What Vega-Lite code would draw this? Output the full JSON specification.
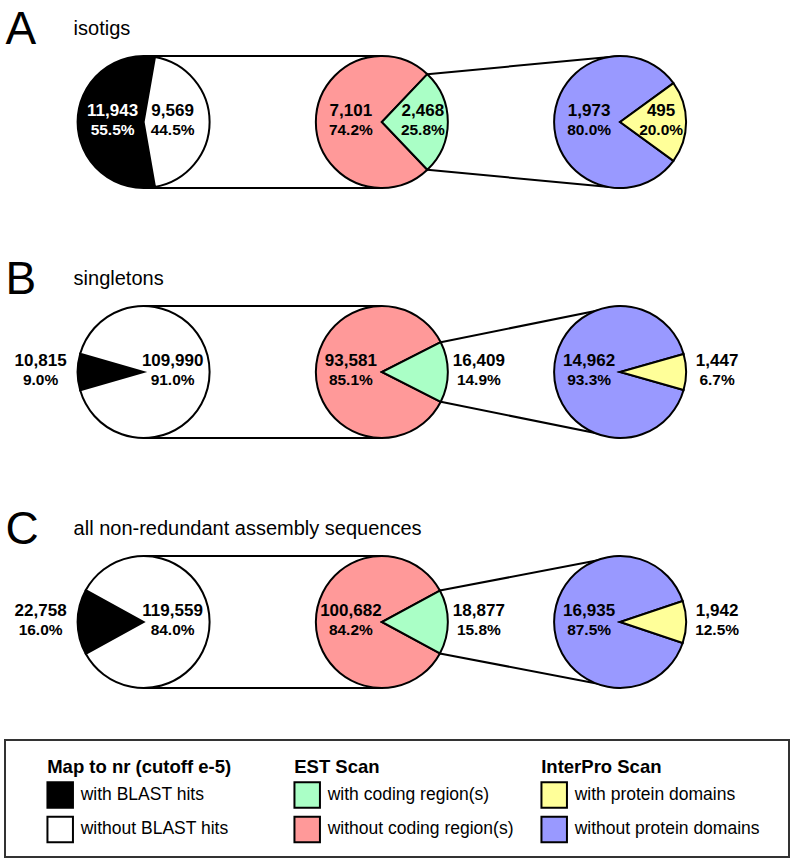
{
  "$schema": "https://vega.github.io/schema/vega-lite/v6.json",
  "background": "white",
  "padding": {"left": 4, "top": 0, "right": 5, "bottom": 6},
  "config": {"view": {"stroke": null}, "font": "Liberation Sans", "scale": {"pointPadding": 0}},
  "spacing": 0,
  "bounds": "flush",
  "datasets": {
    "pies": [
      {"set": "isotigs", "stage": "nr", "category": "with BLAST hits", "count": 11943, "pct": 0.555},
      {"set": "isotigs", "stage": "nr", "category": "without BLAST hits", "count": 9569, "pct": 0.445},
      {"set": "isotigs", "stage": "EST", "category": "without coding region(s)", "count": 7101, "pct": 0.742},
      {"set": "isotigs", "stage": "EST", "category": "with coding region(s)", "count": 2468, "pct": 0.258},
      {"set": "isotigs", "stage": "InterPro", "category": "without protein domains", "count": 1973, "pct": 0.800},
      {"set": "isotigs", "stage": "InterPro", "category": "with protein domains", "count": 495, "pct": 0.200},
      {"set": "singletons", "stage": "nr", "category": "with BLAST hits", "count": 10815, "pct": 0.090},
      {"set": "singletons", "stage": "nr", "category": "without BLAST hits", "count": 109990, "pct": 0.910},
      {"set": "singletons", "stage": "EST", "category": "without coding region(s)", "count": 93581, "pct": 0.851},
      {"set": "singletons", "stage": "EST", "category": "with coding region(s)", "count": 16409, "pct": 0.149},
      {"set": "singletons", "stage": "InterPro", "category": "without protein domains", "count": 14962, "pct": 0.933},
      {"set": "singletons", "stage": "InterPro", "category": "with protein domains", "count": 1447, "pct": 0.067},
      {"set": "all", "stage": "nr", "category": "with BLAST hits", "count": 22758, "pct": 0.160},
      {"set": "all", "stage": "nr", "category": "without BLAST hits", "count": 119559, "pct": 0.840},
      {"set": "all", "stage": "EST", "category": "without coding region(s)", "count": 100682, "pct": 0.842},
      {"set": "all", "stage": "EST", "category": "with coding region(s)", "count": 18877, "pct": 0.158},
      {"set": "all", "stage": "InterPro", "category": "without protein domains", "count": 16935, "pct": 0.875},
      {"set": "all", "stage": "InterPro", "category": "with protein domains", "count": 1942, "pct": 0.125}
    ],
    "panels": [
      {"set": "isotigs", "letter": "A", "name": "isotigs"},
      {"set": "singletons", "letter": "B", "name": "singletons"},
      {"set": "all", "letter": "C", "name": "all non-redundant assembly sequences"}
    ],
    "legend": [
      {"group": "Map to nr (cutoff e-5)", "stage": "nr", "kind": "with", "category": "with BLAST hits"},
      {"group": "Map to nr (cutoff e-5)", "stage": "nr", "kind": "without", "category": "without BLAST hits"},
      {"group": "EST Scan", "stage": "EST", "kind": "with", "category": "with coding region(s)"},
      {"group": "EST Scan", "stage": "EST", "kind": "without", "category": "without coding region(s)"},
      {"group": "InterPro Scan", "stage": "InterPro", "kind": "with", "category": "with protein domains"},
      {"group": "InterPro Scan", "stage": "InterPro", "kind": "without", "category": "without protein domains"}
    ]
  },
  "vconcat": [
    {
      "width": 784,
      "height": 740,
      "data": {"name": "pies"},
      "encoding": {
        "x": {"field": "stage", "type": "nominal", "axis": null, "scale": {"type": "point", "domain": ["nr", "EST", "InterPro"], "range": [138.6, 615.1], "padding": 0}},
        "y": {"field": "set", "type": "nominal", "axis": null, "scale": {"type": "point", "domain": ["isotigs", "singletons", "all"], "range": [122, 622], "padding": 0}}
      },
      "layer": [
        {
          "transform": [{"filter": "datum.stage === 'nr' && datum.category === 'with BLAST hits'"}],
          "encoding": {"x": {"datum": "nr", "type": "nominal"}, "x2": {"datum": "EST"}},
          "layer": [
            {"mark": {"type": "rule", "yOffset": -66, "strokeWidth": 2, "color": "#000000"}, "encoding": {}},
            {"mark": {"type": "rule", "yOffset": 66, "strokeWidth": 2, "color": "#000000"}, "encoding": {}}
          ]
        },
        {
          "transform": [{"filter": "datum.set === 'isotigs' && datum.category === 'with coding region(s)'"}],
          "encoding": {"x": {"datum": "EST", "type": "nominal"}, "x2": {"datum": "InterPro"}, "y2": {"field": "set"}},
          "layer": [
            {"mark": {"type": "rule", "xOffset": 45.5, "yOffset": -47.8, "y2Offset": -66, "strokeWidth": 2, "color": "#000000"}, "encoding": {}},
            {"mark": {"type": "rule", "xOffset": 45.5, "yOffset": 47.8, "y2Offset": 66, "strokeWidth": 2, "color": "#000000"}, "encoding": {}}
          ]
        },
        {
          "transform": [{"filter": "datum.set === 'singletons' && datum.category === 'with coding region(s)'"}],
          "encoding": {"x": {"datum": "EST", "type": "nominal"}, "x2": {"datum": "InterPro"}, "y2": {"field": "set"}},
          "layer": [
            {"mark": {"type": "rule", "xOffset": 58.9, "yOffset": -29.8, "y2Offset": -66, "strokeWidth": 2, "color": "#000000"}, "encoding": {}},
            {"mark": {"type": "rule", "xOffset": 58.9, "yOffset": 29.8, "y2Offset": 66, "strokeWidth": 2, "color": "#000000"}, "encoding": {}}
          ]
        },
        {
          "transform": [{"filter": "datum.set === 'all' && datum.category === 'with coding region(s)'"}],
          "encoding": {"x": {"datum": "EST", "type": "nominal"}, "x2": {"datum": "InterPro"}, "y2": {"field": "set"}},
          "layer": [
            {"mark": {"type": "rule", "xOffset": 58.0, "yOffset": -31.4, "y2Offset": -66, "strokeWidth": 2, "color": "#000000"}, "encoding": {}},
            {"mark": {"type": "rule", "xOffset": 58.0, "yOffset": 31.4, "y2Offset": 66, "strokeWidth": 2, "color": "#000000"}, "encoding": {}}
          ]
        },
        {
          "transform": [{"filter": "datum.set === 'isotigs' && datum.stage === 'nr'"}],
          "mark": {"type": "arc", "outerRadius": 66, "stroke": "#000000", "strokeWidth": 2},
          "encoding": {
            "theta": {"field": "count", "type": "quantitative", "scale": {"range": [0.17335, 6.45654]}},
            "order": {"field": "count", "type": "quantitative", "sort": "ascending"},
            "color": {"field": "category", "type": "nominal", "legend": null, "scale": {"domain": ["with BLAST hits", "without BLAST hits", "with coding region(s)", "without coding region(s)", "with protein domains", "without protein domains"], "range": ["#000000", "#ffffff", "#aaffc6", "#ff9999", "#ffff99", "#9999ff"]}}
          }
        },
        {
          "transform": [{"filter": "datum.set === 'isotigs' && datum.stage === 'EST'"}],
          "mark": {"type": "arc", "outerRadius": 66, "stroke": "#000000", "strokeWidth": 2},
          "encoding": {
            "theta": {"field": "count", "type": "quantitative", "scale": {"range": [0.76051, 7.0437]}},
            "order": {"field": "count", "type": "quantitative", "sort": "ascending"},
            "color": {"field": "category", "type": "nominal", "legend": null}
          }
        },
        {
          "transform": [{"filter": "datum.set === 'isotigs' && datum.stage === 'InterPro'"}],
          "mark": {"type": "arc", "outerRadius": 66, "stroke": "#000000", "strokeWidth": 2},
          "encoding": {
            "theta": {"field": "count", "type": "quantitative", "scale": {"range": [0.94068, 7.22387]}},
            "order": {"field": "count", "type": "quantitative", "sort": "ascending"},
            "color": {"field": "category", "type": "nominal", "legend": null}
          }
        },
        {
          "transform": [{"filter": "datum.set === 'singletons' && datum.stage === 'nr'"}],
          "mark": {"type": "arc", "outerRadius": 66, "stroke": "#000000", "strokeWidth": 2},
          "encoding": {
            "theta": {"field": "count", "type": "quantitative", "scale": {"range": [4.43118, 10.71437]}},
            "order": {"field": "count", "type": "quantitative", "sort": "ascending"},
            "color": {"field": "category", "type": "nominal", "legend": null}
          }
        },
        {
          "transform": [{"filter": "datum.set === 'singletons' && datum.stage === 'EST'"}],
          "mark": {"type": "arc", "outerRadius": 66, "stroke": "#000000", "strokeWidth": 2},
          "encoding": {
            "theta": {"field": "count", "type": "quantitative", "scale": {"range": [1.10212, 7.38531]}},
            "order": {"field": "count", "type": "quantitative", "sort": "ascending"},
            "color": {"field": "category", "type": "nominal", "legend": null}
          }
        },
        {
          "transform": [{"filter": "datum.set === 'singletons' && datum.stage === 'InterPro'"}],
          "mark": {"type": "arc", "outerRadius": 66, "stroke": "#000000", "strokeWidth": 2},
          "encoding": {
            "theta": {"field": "count", "type": "quantitative", "scale": {"range": [1.29376, 7.57695]}},
            "order": {"field": "count", "type": "quantitative", "sort": "ascending"},
            "color": {"field": "category", "type": "nominal", "legend": null}
          }
        },
        {
          "transform": [{"filter": "datum.set === 'all' && datum.stage === 'nr'"}],
          "mark": {"type": "arc", "outerRadius": 66, "stroke": "#000000", "strokeWidth": 2},
          "encoding": {
            "theta": {"field": "count", "type": "quantitative", "scale": {"range": [4.20998, 10.49317]}},
            "order": {"field": "count", "type": "quantitative", "sort": "ascending"},
            "color": {"field": "category", "type": "nominal", "legend": null}
          }
        },
        {
          "transform": [{"filter": "datum.set === 'all' && datum.stage === 'EST'"}],
          "mark": {"type": "arc", "outerRadius": 66, "stroke": "#000000", "strokeWidth": 2},
          "encoding": {
            "theta": {"field": "count", "type": "quantitative", "scale": {"range": [1.07477, 7.35796]}},
            "order": {"field": "count", "type": "quantitative", "sort": "ascending"},
            "color": {"field": "category", "type": "nominal", "legend": null}
          }
        },
        {
          "transform": [{"filter": "datum.set === 'all' && datum.stage === 'InterPro'"}],
          "mark": {"type": "arc", "outerRadius": 66, "stroke": "#000000", "strokeWidth": 2},
          "encoding": {
            "theta": {"field": "count", "type": "quantitative", "scale": {"range": [1.2476, 7.53079]}},
            "order": {"field": "count", "type": "quantitative", "sort": "ascending"},
            "color": {"field": "category", "type": "nominal", "legend": null}
          }
        },
        {
          "transform": [{"filter": "(datum.category === 'with BLAST hits' || datum.category === 'without coding region(s)' || datum.category === 'without protein domains') && datum.pct >= 0.2"}],
          "encoding": {"color": {"condition": {"test": "datum.category === 'with BLAST hits'", "value": "#ffffff"}, "value": "#000000"}},
          "layer": [
            {"mark": {"type": "text", "dx": -31, "dy": -6.5, "fontSize": 17, "fontWeight": "bold", "baseline": "alphabetic"}, "encoding": {"text": {"field": "count", "type": "quantitative", "format": ","}}},
            {"mark": {"type": "text", "dx": -31, "dy": 12.5, "fontSize": 15.5, "fontWeight": "bold", "baseline": "alphabetic"}, "encoding": {"text": {"field": "pct", "type": "quantitative", "format": ".1%"}}}
          ]
        },
        {
          "transform": [{"filter": "(datum.category === 'with BLAST hits' || datum.category === 'without coding region(s)' || datum.category === 'without protein domains') && datum.pct < 0.2"}],
          "layer": [
            {"mark": {"type": "text", "dx": -103, "dy": -6.5, "fontSize": 17, "fontWeight": "bold", "baseline": "alphabetic", "color": "#000000"}, "encoding": {"text": {"field": "count", "type": "quantitative", "format": ","}}},
            {"mark": {"type": "text", "dx": -103, "dy": 12.5, "fontSize": 15.5, "fontWeight": "bold", "baseline": "alphabetic", "color": "#000000"}, "encoding": {"text": {"field": "pct", "type": "quantitative", "format": ".1%"}}}
          ]
        },
        {
          "transform": [{"filter": "(datum.category === 'without BLAST hits' || datum.category === 'with coding region(s)' || datum.category === 'with protein domains') && datum.pct >= 0.4"}],
          "layer": [
            {"mark": {"type": "text", "dx": 29, "dy": -6.5, "fontSize": 17, "fontWeight": "bold", "baseline": "alphabetic", "color": "#000000"}, "encoding": {"text": {"field": "count", "type": "quantitative", "format": ","}}},
            {"mark": {"type": "text", "dx": 29, "dy": 12.5, "fontSize": 15.5, "fontWeight": "bold", "baseline": "alphabetic", "color": "#000000"}, "encoding": {"text": {"field": "pct", "type": "quantitative", "format": ".1%"}}}
          ]
        },
        {
          "transform": [{"filter": "(datum.category === 'without BLAST hits' || datum.category === 'with coding region(s)' || datum.category === 'with protein domains') && datum.pct >= 0.2 && datum.pct < 0.4"}],
          "layer": [
            {"mark": {"type": "text", "dx": 41, "dy": -6.5, "fontSize": 17, "fontWeight": "bold", "baseline": "alphabetic", "color": "#000000"}, "encoding": {"text": {"field": "count", "type": "quantitative", "format": ","}}},
            {"mark": {"type": "text", "dx": 41, "dy": 12.5, "fontSize": 15.5, "fontWeight": "bold", "baseline": "alphabetic", "color": "#000000"}, "encoding": {"text": {"field": "pct", "type": "quantitative", "format": ".1%"}}}
          ]
        },
        {
          "transform": [{"filter": "(datum.category === 'without BLAST hits' || datum.category === 'with coding region(s)' || datum.category === 'with protein domains') && datum.pct < 0.2"}],
          "layer": [
            {"mark": {"type": "text", "dx": 97, "dy": -6.5, "fontSize": 17, "fontWeight": "bold", "baseline": "alphabetic", "color": "#000000"}, "encoding": {"text": {"field": "count", "type": "quantitative", "format": ","}}},
            {"mark": {"type": "text", "dx": 97, "dy": 12.5, "fontSize": 15.5, "fontWeight": "bold", "baseline": "alphabetic", "color": "#000000"}, "encoding": {"text": {"field": "pct", "type": "quantitative", "format": ".1%"}}}
          ]
        },
        {
          "data": {"name": "panels"},
          "encoding": {"x": {"datum": "nr", "type": "nominal"}, "y": {"field": "set", "type": "nominal"}},
          "layer": [
            {"mark": {"type": "text", "align": "left", "baseline": "alphabetic", "fontSize": 46, "dx": -138, "dy": -78, "color": "#000000"}, "encoding": {"text": {"field": "letter"}}},
            {"mark": {"type": "text", "align": "left", "baseline": "alphabetic", "fontSize": 20, "dx": -70, "dy": -87, "color": "#000000"}, "encoding": {"text": {"field": "name"}}}
          ]
        }
      ],
      "resolve": {"scale": {"theta": "independent"}}
    },
    {
      "width": 784,
      "height": 117,
      "view": {"stroke": "#333333", "strokeWidth": 2},
      "data": {"name": "legend"},
      "encoding": {
        "x": {"field": "stage", "type": "nominal", "axis": null, "scale": {"type": "point", "domain": ["nr", "EST", "InterPro"], "range": [55.2, 549.2], "padding": 0}},
        "y": {"field": "kind", "type": "nominal", "axis": null, "scale": {"type": "point", "domain": ["with", "without"], "range": [55, 89.5], "padding": 0}}
      },
      "layer": [
        {
          "mark": {"type": "square", "size": 650, "filled": true, "stroke": "#000000", "strokeWidth": 2, "opacity": 1},
          "encoding": {"color": {"field": "category", "type": "nominal", "legend": null, "scale": {"domain": ["with BLAST hits", "without BLAST hits", "with coding region(s)", "without coding region(s)", "with protein domains", "without protein domains"], "range": ["#000000", "#ffffff", "#aaffc6", "#ff9999", "#ffff99", "#9999ff"]}}}
        },
        {
          "mark": {"type": "text", "align": "left", "baseline": "alphabetic", "dx": 20.5, "dy": 4.5, "fontSize": 17.5, "color": "#000000"},
          "encoding": {"text": {"field": "category"}}
        },
        {
          "transform": [{"filter": "datum.kind === 'with'"}],
          "mark": {"type": "text", "align": "left", "baseline": "alphabetic", "dx": -13, "dy": -22, "fontSize": 18.5, "fontWeight": "bold", "color": "#000000"},
          "encoding": {"text": {"field": "group"}}
        }
      ]
    }
  ]
}
